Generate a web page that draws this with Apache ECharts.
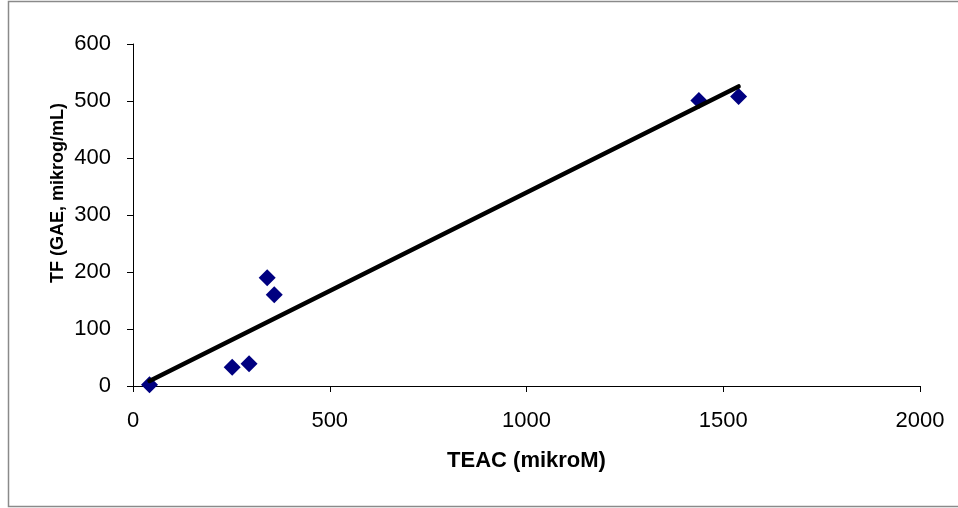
<!DOCTYPE html>
<html>
<head>
<meta charset="utf-8">
<script src="https://cdn.jsdelivr.net/npm/echarts@6/dist/echarts.min.js"></script>
<style>
  html, body { margin: 0; padding: 0; background: #fff; }
  #chart { width: 958px; height: 508px; }
</style>
</head>
<body>
<div id="chart"></div>
<script>
// Measured samples: TEAC (mikroM) vs total phenolics TF (GAE, mikrog/mL)
const teac = [42, 252, 295, 341, 359, 1438, 1539];
const tf = [2, 33, 39, 190, 160, 501, 508];

const xTicks = [0, 500, 1000, 1500, 2000];
const yTicks = [0, 100, 200, 300, 400, 500, 600];

const xTitle = 'TEAC (mikroM)';
const yTitle = 'TF (GAE, mikrog/mL)';

// Least-squares linear trendline across the measured TEAC range
function linearFit(xs, ys) {
  const n = xs.length;
  const mx = xs.reduce((a, b) => a + b, 0) / n;
  const my = ys.reduce((a, b) => a + b, 0) / n;
  let sxy = 0, sxx = 0;
  for (let i = 0; i < n; i++) {
    sxy += (xs[i] - mx) * (ys[i] - my);
    sxx += (xs[i] - mx) * (xs[i] - mx);
  }
  const slope = sxy / sxx;
  return { slope, intercept: my - slope * mx };
}
const fit = linearFit(teac, tf);
const xMin = Math.min(...teac), xMax = Math.max(...teac);
const trend = [xMin, xMax].map(x => [x, fit.slope * x + fit.intercept]);

const points = teac.map((x, i) => [x, tf[i]]);

const font = 'Liberation Sans, Arial, sans-serif';
const plain = v => String(v);
const axisCommon = {
  axisLine: { show: true, onZero: false, lineStyle: { color: '#000', width: 1 } },
  axisTick: { show: true, inside: false, length: 6, lineStyle: { color: '#000', width: 1 } },
  splitLine: { show: false },
};

const chart = echarts.init(document.getElementById('chart'), null, { renderer: 'canvas' });
chart.setOption({
  animation: false,
  backgroundColor: '#fff',
  grid: { left: 133, right: 38, top: 44, bottom: 122, containLabel: false },
  xAxis: Object.assign({}, axisCommon, {
    type: 'value',
    min: xTicks[0], max: xTicks[xTicks.length - 1], interval: xTicks[1] - xTicks[0],
    axisLabel: { color: '#000', fontSize: 22, fontFamily: font, margin: 24, formatter: plain },
    name: xTitle, nameLocation: 'middle', nameGap: 64,
    nameTextStyle: { color: '#000', fontSize: 22, fontWeight: 'bold', fontFamily: font }
  }),
  yAxis: Object.assign({}, axisCommon, {
    type: 'value',
    min: yTicks[0], max: yTicks[yTicks.length - 1], interval: yTicks[1] - yTicks[0],
    axisLabel: { color: '#000', fontSize: 22, fontFamily: font, margin: 22, formatter: plain }
  }),
  graphic: [
    {
      type: 'rect', silent: true, z: -1,
      shape: { x: 8.5, y: 1.5, width: 960, height: 505 },
      style: { fill: 'none', stroke: '#8a8a8a', lineWidth: 1.5 }
    },
    {
      type: 'text', silent: true,
      x: 58, y: 193, rotation: Math.PI / 2,
      style: {
        text: yTitle, fill: '#000', font: 'bold 18px ' + font,
        align: 'center', verticalAlign: 'middle'
      }
    }
  ],
  series: [
    {
      type: 'scatter', data: points, symbol: 'diamond', symbolSize: 17,
      itemStyle: { color: '#000080', opacity: 1 }, z: 2
    },
    {
      type: 'line', data: trend, showSymbol: false, symbol: 'none',
      lineStyle: { color: '#000', width: 4.5, cap: 'round' }, z: 3
    }
  ]
});
</script>
</body>
</html>
